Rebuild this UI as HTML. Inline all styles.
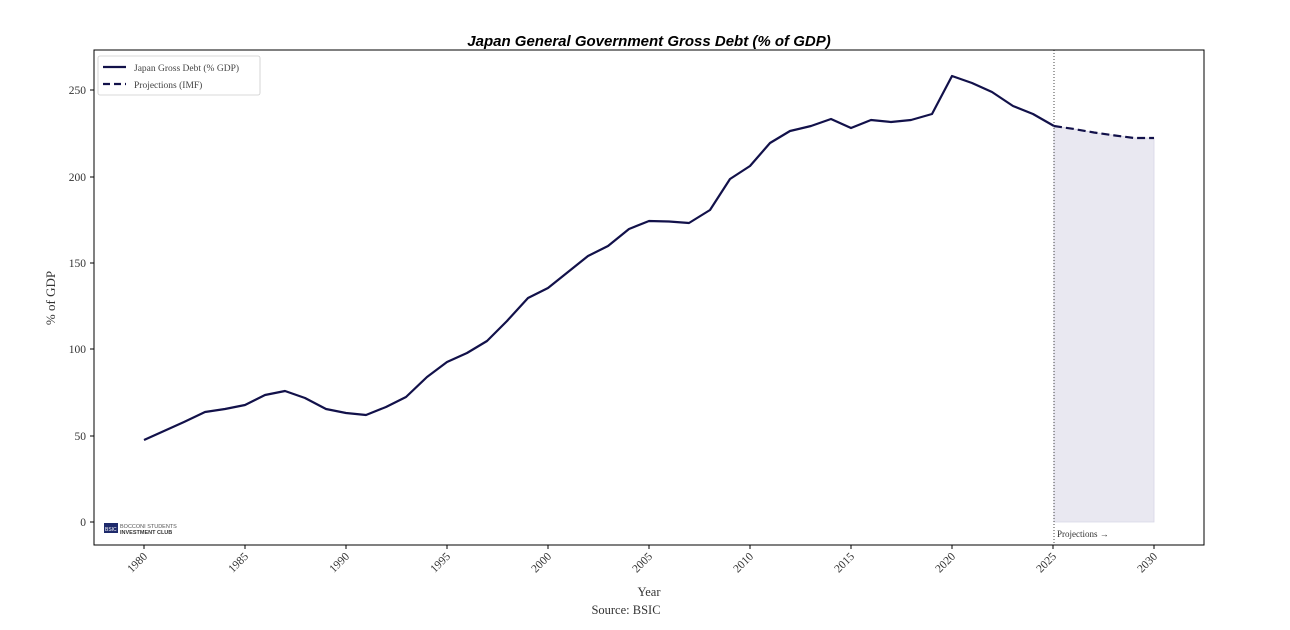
<!DOCTYPE html>
<html><head><meta charset="utf-8"><style>
html,body{margin:0;padding:0;background:#fff;}
svg{display:block;font-family:"Liberation Serif",serif;}
</style></head><body>
<svg width="1290" height="630" viewBox="0 0 1290 630" xmlns="http://www.w3.org/2000/svg">
<rect width="1290" height="630" fill="#fff"/>
<text x="649" y="46" text-anchor="middle" font-family="Liberation Sans, sans-serif" font-weight="bold" font-style="italic" font-size="15" fill="#000">Japan General Government Gross Debt (% of GDP)</text>
<polygon points="1054,126 1074,129 1094,132.5 1115,135.5 1134,138 1154,138 1154,522 1054,522" fill="#e9e8f1" stroke="#d8d6e6" stroke-width="0.8"/>
<line x1="1054" y1="50" x2="1054" y2="545" stroke="#333" stroke-width="0.9" stroke-dasharray="1,2"/>
<text x="1057" y="537" font-size="9" fill="#333">Projections →</text>
<rect x="94" y="50" width="1110" height="495" fill="none" stroke="#000" stroke-width="1"/>
<g font-size="11.5" fill="#333" text-anchor="end">
<line x1="90" y1="522" x2="94" y2="522" stroke="#000"/><text x="86" y="526">0</text>
<line x1="90" y1="436" x2="94" y2="436" stroke="#000"/><text x="86" y="440">50</text>
<line x1="90" y1="349" x2="94" y2="349" stroke="#000"/><text x="86" y="353">100</text>
<line x1="90" y1="263" x2="94" y2="263" stroke="#000"/><text x="86" y="267">150</text>
<line x1="90" y1="177" x2="94" y2="177" stroke="#000"/><text x="86" y="181">200</text>
<line x1="90" y1="90" x2="94" y2="90" stroke="#000"/><text x="86" y="94">250</text>
</g>
<text transform="translate(55,298) rotate(-90)" text-anchor="middle" font-size="13" fill="#333">% of GDP</text>
<g font-size="11.5" fill="#333" text-anchor="end">
<g transform="translate(144,545)"><line y2="4" stroke="#000"/><text transform="translate(4,12) rotate(-45)">1980</text></g>
<g transform="translate(245,545)"><line y2="4" stroke="#000"/><text transform="translate(4,12) rotate(-45)">1985</text></g>
<g transform="translate(346,545)"><line y2="4" stroke="#000"/><text transform="translate(4,12) rotate(-45)">1990</text></g>
<g transform="translate(447,545)"><line y2="4" stroke="#000"/><text transform="translate(4,12) rotate(-45)">1995</text></g>
<g transform="translate(548,545)"><line y2="4" stroke="#000"/><text transform="translate(4,12) rotate(-45)">2000</text></g>
<g transform="translate(649,545)"><line y2="4" stroke="#000"/><text transform="translate(4,12) rotate(-45)">2005</text></g>
<g transform="translate(750,545)"><line y2="4" stroke="#000"/><text transform="translate(4,12) rotate(-45)">2010</text></g>
<g transform="translate(851,545)"><line y2="4" stroke="#000"/><text transform="translate(4,12) rotate(-45)">2015</text></g>
<g transform="translate(952,545)"><line y2="4" stroke="#000"/><text transform="translate(4,12) rotate(-45)">2020</text></g>
<g transform="translate(1053,545)"><line y2="4" stroke="#000"/><text transform="translate(4,12) rotate(-45)">2025</text></g>
<g transform="translate(1154,545)"><line y2="4" stroke="#000"/><text transform="translate(4,12) rotate(-45)">2030</text></g>
</g>
<text x="649" y="596" text-anchor="middle" font-size="12.5" fill="#333">Year</text>
<text x="626" y="614" text-anchor="middle" font-size="12.5" fill="#333">Source: BSIC</text>
<polyline fill="none" stroke="#12114a" stroke-width="2.2" stroke-linejoin="round" points="144,440 164,431 184,422 205,412 225,409 245,405 265,395 285,391 305,398 326,409 346,413 366,415 386,407 406,397 427,377 447,362 467,353 487,341 507,321 528,298 548,288 568,272 588,256 608,246 629,229 649,221 669,221.5 689,223 710,210 730,179 750,166 770,143 790,131 811,126 831,119 851,128 871,120 891,122 911,120 932,114 952,76 972,83 992,92 1013,106 1033,114 1054,126"/>
<polyline fill="none" stroke="#12114a" stroke-width="2.2" stroke-dasharray="8,4" points="1054,126 1074,129 1094,132.5 1115,135.5 1134,138 1154,138"/>
<rect x="98" y="56" width="162" height="39" rx="2" fill="#fff" stroke="#ccc" stroke-width="0.8"/>
<line x1="103" y1="67" x2="126" y2="67" stroke="#12114a" stroke-width="2.2"/>
<text x="134" y="71" font-size="9.5" fill="#444">Japan Gross Debt (% GDP)</text>
<line x1="103" y1="84" x2="126" y2="84" stroke="#12114a" stroke-width="2.2" stroke-dasharray="7,4"/>
<text x="134" y="88" font-size="9.5" fill="#444">Projections (IMF)</text>
<rect x="104" y="523" width="14" height="10" fill="#1e2a6b"/>
<text x="105" y="531" font-size="5" fill="#fff" font-family="Liberation Sans, sans-serif">BSIC</text>
<text x="120" y="528" font-size="5.5" fill="#555" font-family="Liberation Sans, sans-serif">BOCCONI STUDENTS</text>
<text x="120" y="534" font-size="5.5" fill="#333" font-weight="bold" font-family="Liberation Sans, sans-serif">INVESTMENT CLUB</text>
</svg>
</body></html>
